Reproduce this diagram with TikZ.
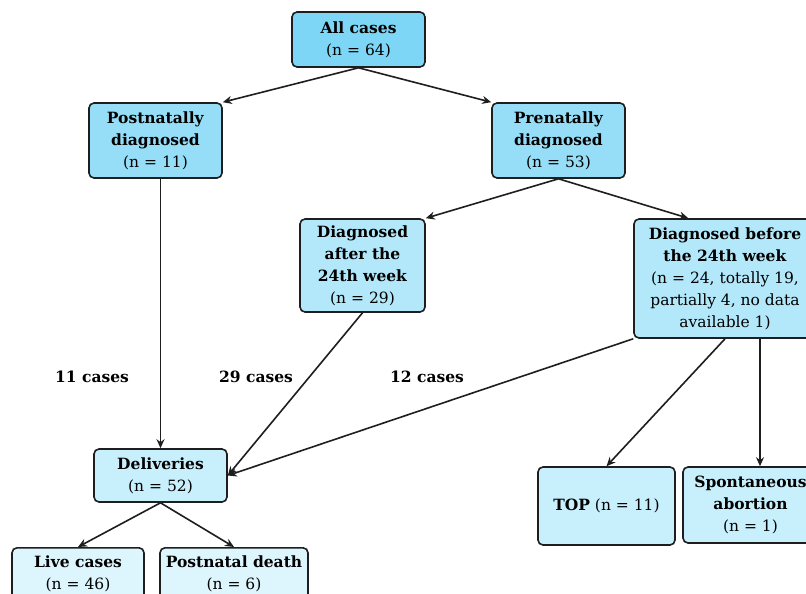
\documentclass[tikz,border=0pt]{standalone}
\usepackage{fontspec}
\setmainfont{DejaVu Serif}
\usetikzlibrary{arrows.meta,calc}
\definecolor{cA}{RGB}{125,214,245}
\definecolor{cB}{RGB}{150,222,247}
\definecolor{cC}{RGB}{178,232,250}
\definecolor{cD}{RGB}{200,239,252}
\definecolor{cE}{RGB}{221,245,253}
\definecolor{edge}{RGB}{30,30,30}
\begin{document}
\begin{tikzpicture}[x=1pt,y=1pt,
  box/.style={draw=edge,line width=1.6pt,rounded corners=5pt,align=center,inner sep=0pt,
    font=\fontsize{15.5}{22}\selectfont},
  arr/.style={-{Stealth[length=9pt,width=8pt]},line width=1.6pt,draw=edge},
  lab/.style={font=\fontsize{15.5}{22}\selectfont\bfseries,inner sep=0pt}]
\useasboundingbox (0,0) rectangle (806,-594);
\node[box,fill=cA,minimum width=133,minimum height=55] (all) at (358.5,-39.5) {\textbf{All cases}\\(n = 64)};
\node[box,fill=cB,minimum width=133,minimum height=75] (post) at (155.5,-140.5) {\textbf{Postnatally}\\\textbf{diagnosed}\\(n = 11)};
\node[box,fill=cB,minimum width=133,minimum height=75] (pre) at (558.5,-140.5) {\textbf{Prenatally}\\\textbf{diagnosed}\\(n = 53)};
\node[box,fill=cC,minimum width=125,minimum height=93] (after) at (362.5,-265.5) {\textbf{Diagnosed}\\\textbf{after the}\\\textbf{24th week}\\(n = 29)};
\node[box,fill=cC,minimum width=182,minimum height=119] (before) at (725,-278.5) {\textbf{Diagnosed before}\\\textbf{the 24th week}\\(n = 24, totally 19,\\partially 4, no data\\available 1)};
\node[box,fill=cD,minimum width=133,minimum height=53] (deliv) at (160.5,-475.5) {\textbf{Deliveries}\\(n = 52)};
\node[box,fill=cD,minimum width=137,minimum height=78] (top) at (606.5,-506) {\textbf{TOP} (n = 11)};
\node[box,fill=cD,minimum width=135,minimum height=76] (spont) at (750.5,-505) {\textbf{Spontaneous}\\\textbf{abortion}\\(n = 1)};
\node[box,fill=cE,minimum width=132,minimum height=53,anchor=north] (live) at (78,-547) {\textbf{Live cases}\\(n = 46)};
\node[box,fill=cE,minimum width=148,minimum height=53,anchor=north] (death) at (234,-547) {\textbf{Postnatal death}\\(n = 6)};
\coordinate (sx) at (760,0);
\node[lab] (l11) at (92,-377) {11 cases};
\node[lab] (l29) at (256,-377) {29 cases};
\node[lab] (l12) at (427,-377) {12 cases};
\draw[arr] (all.south) -- (post.north east);
\draw[arr] (all.south) -- (pre.north west);
\draw[arr] (pre.south) -- (after.north east);
\draw[arr] (pre.south) -- ($(before.north west)!0.3!(before.north east)$);
\draw[arr] (post.south -| deliv.north) -- (deliv.north);
\draw[arr] (after.south) -- (deliv.east);
\draw[arr] (before.south west) -- (deliv.east);
\draw[arr] (before.south) -- (top.north);
\draw[arr] (before.south -| sx) -- (spont.north -| sx);
\draw[arr] (deliv.south) -- (live.north);
\draw[arr] (deliv.south) -- (death.north);
\end{tikzpicture}
\end{document}
